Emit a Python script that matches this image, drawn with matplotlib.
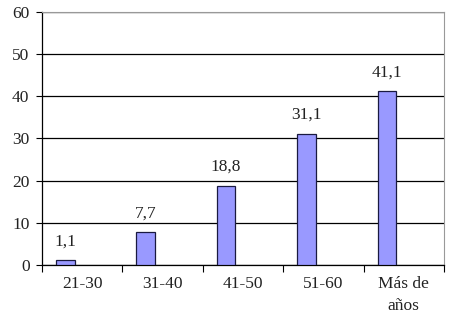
import matplotlib
matplotlib.use("Agg")
import matplotlib.pyplot as plt
import numpy as np

categories = ["21-30", "31-40", "41-50", "51-60", "Más de\naños"]
values = [1.1, 7.7, 18.8, 31.1, 41.1]
value_labels = ["1,1", "7,7", "18,8", "31,1", "41,1"]
y_ticks = [0, 10, 20, 30, 40, 50, 60]

plt.rcParams["font.family"] = ["Liberation Serif", "DejaVu Serif"]
fs = 12.5

fig = plt.figure(figsize=(4.53, 3.16), dpi=100)
ax = fig.add_axes([42 / 453, 1 - 265 / 316, (444 - 42) / 453, (265 - 11.7) / 316])

x = np.arange(len(categories))
bar_w = 0.232
bars = ax.bar(x - 0.326, values, width=bar_w, align="edge",
              color="#9999FF", edgecolor="#1a1a40", linewidth=0.9, zorder=3)

for b, lab in zip(bars, value_labels):
    ax.annotate(lab, (b.get_x() + b.get_width() / 2, b.get_height()),
                xytext=(0, 8), textcoords="offset points",
                ha="center", va="bottom", fontsize=fs, color="#222222")

ax.set_xlim(-0.5, len(categories) - 0.5)
ax.set_ylim(0, 60)
ax.set_yticks(y_ticks)
ax.tick_params(axis="y", labelsize=fs, length=4, width=0.8, pad=5, labelcolor="#222222")
ax.yaxis.grid(True, color="black", linewidth=0.9, zorder=0)

# categories labelled at centres, ticks at boundaries
ax.set_xticks(x)
ax.set_xticklabels(categories, fontsize=fs, linespacing=1.45, color="#222222")
ax.tick_params(axis="x", length=0, pad=8)
ax.set_xticks(np.arange(-0.5, len(categories)), minor=True)
ax.tick_params(axis="x", which="minor", length=5, width=0.8)

ax.spines["top"].set_color("#999999")
ax.spines["right"].set_color("#999999")
ax.spines["left"].set_linewidth(0.9)
ax.spines["bottom"].set_linewidth(0.9)

fig.savefig("out.png", dpi=100)
